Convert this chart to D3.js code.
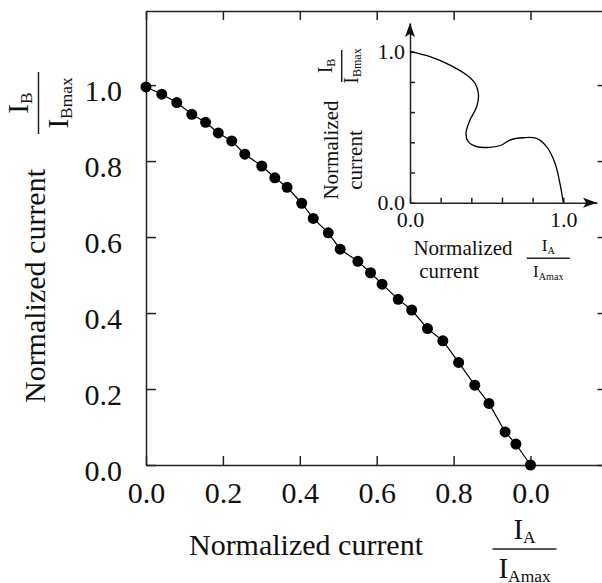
<!DOCTYPE html>
<html>
<head>
<meta charset="utf-8">
<script src="https://cdn.jsdelivr.net/npm/d3@7"></script>
<style>
  body { margin: 0; background: #fff; }
  svg { display: block; }
  svg text { font-family: "Liberation Serif", "Times New Roman", serif; }
  .axis path, .axis line { stroke: #222; stroke-width: 1.5; }
  .axis text { fill: #111; }
</style>
</head>
<body>
<div id="chart"></div>
<script>
// main chart data
const mainX = [0, 0.041, 0.080, 0.119, 0.155, 0.188, 0.223, 0.257, 0.301, 0.335,
  0.367, 0.405, 0.435, 0.474, 0.505, 0.551, 0.584, 0.614, 0.656, 0.691,
  0.732, 0.772, 0.813, 0.855, 0.892, 0.934, 0.962, 1.0];
const mainY = [0.995, 0.976, 0.954, 0.923, 0.902, 0.874, 0.853, 0.818, 0.787, 0.756,
  0.731, 0.689, 0.649, 0.611, 0.568, 0.536, 0.506, 0.476, 0.436, 0.408,
  0.359, 0.327, 0.270, 0.210, 0.162, 0.087, 0.055, 0.0];

const xTicks = [0, 0.2, 0.4, 0.6, 0.8, 1.0];
const xTickLabels = ["0.0", "0.2", "0.4", "0.6", "0.8", "0.0"];
const yTicks = [0, 0.2, 0.4, 0.6, 0.8, 1.0];
const yTickLabels = ["0.0", "0.2", "0.4", "0.6", "0.8", "1.0"];

// inset curve
const insetX = [0, 0.130, 0.261, 0.370, 0.424, 0.446, 0.435, 0.391, 0.365, 0.380,
  0.435, 0.522, 0.598, 0.652, 0.739, 0.826, 0.891, 0.946, 0.978, 1.0];
const insetY = [1.0, 0.967, 0.911, 0.845, 0.790, 0.724, 0.635, 0.547, 0.459, 0.404,
  0.371, 0.367, 0.382, 0.415, 0.430, 0.426, 0.371, 0.261, 0.128, 0.0];
const insetTicks = [0, 0.2, 0.4, 0.6, 0.8, 1.0];
const insetTickLabels = ["0.0", "", "", "", "", "1.0"];

const width = 602, height = 583;
const serif = '"Liberation Serif", "Times New Roman", serif';

const svg = d3.select("#chart").append("svg")
  .attr("width", width).attr("height", height);

//scale
const x = d3.scaleLinear().domain([0, 1.19]).range([146, 146 + 1.19 * 384.5]);
const y = d3.scaleLinear().domain([0, 1.195]).range([465, 11]);

//axes
svg.append("g").attr("class", "axis")
  .attr("transform", `translate(0,${y(0)})`)
  .call(d3.axisBottom(x).tickValues(xTicks).tickSize(-9).tickSizeOuter(0)
    .tickPadding(17).tickFormat((d, i) => xTickLabels[i]))
  .call(g => g.selectAll("text").attr("font-size", 30));

svg.append("g").attr("class", "axis")
  .attr("transform", `translate(0,${y.range()[1]})`)
  .call(d3.axisTop(x).tickValues(xTicks).tickSize(-9).tickSizeOuter(0).tickFormat(""));

svg.append("g").attr("class", "axis")
  .attr("transform", `translate(${x(0)},0)`)
  .call(d3.axisLeft(y).tickValues(yTicks).tickSize(-10).tickSizeOuter(0)
    .tickPadding(24).tickFormat((d, i) => yTickLabels[i]))
  .call(g => g.selectAll("text").attr("font-size", 30).attr("dy", "0.5em"));

svg.append("g").attr("class", "axis")
  .attr("transform", `translate(${x.range()[1]},0)`)
  .call(d3.axisRight(y).tickValues(yTicks).tickSize(-6).tickSizeOuter(0).tickFormat(""));

//mark
const pts = mainX.map((d, i) => [d, mainY[i]]);
svg.append("path")
  .datum(pts)
  .attr("fill", "none").attr("stroke", "#000").attr("stroke-width", 1.2)
  .attr("d", d3.line().x(d => x(d[0])).y(d => y(d[1])));

svg.append("g").selectAll("circle")
  .data(pts)
  .join("circle")
  .attr("cx", d => x(d[0])).attr("cy", d => y(d[1]))
  .attr("r", 5.5).attr("fill", "#000");

//labels
function fraction(g, num, numSub, den, denSub, size, lineLen, numBase, denBase) {
  const sub = size * 0.6;
  const t1 = g.append("text").attr("text-anchor", "middle").attr("y", numBase)
    .attr("font-size", size).attr("fill", "#111");
  t1.append("tspan").text(num);
  t1.append("tspan").attr("font-size", sub).attr("dy", size * 0.15).text(numSub);
  g.append("line").attr("x1", -lineLen / 2).attr("x2", lineLen / 2)
    .attr("stroke", "#222").attr("stroke-width", 1.5);
  const t2 = g.append("text").attr("text-anchor", "middle").attr("y", denBase)
    .attr("font-size", size).attr("fill", "#111");
  t2.append("tspan").text(den);
  t2.append("tspan").attr("font-size", sub).attr("dy", size * 0.15).text(denSub);
}

svg.append("text")
  .attr("transform", "translate(45,286) rotate(-90)")
  .attr("text-anchor", "middle").attr("font-size", 30).attr("fill", "#111")
  .text("Normalized current");

fraction(svg.append("g").attr("transform", "translate(38.5,103) rotate(-90)"),
  "I", "B", "I", "Bmax", 29, 62, -11, 29);

svg.append("text")
  .attr("x", 306).attr("y", 555)
  .attr("text-anchor", "middle").attr("font-size", 30).attr("fill", "#111")
  .text("Normalized current");

fraction(svg.append("g").attr("transform", "translate(524.5,549)"),
  "I", "A", "I", "Amax", 29, 64, -10, 29);

//inset
const xi = d3.scaleLinear().domain([0, 1.22]).range([410, 410 + 1.22 * 153.3]);
const yi = d3.scaleLinear().domain([0, 1.19]).range([202.7, 202.7 - 1.19 * 151]);

const inset = svg.append("g");

inset.append("g").attr("class", "axis")
  .attr("transform", `translate(0,${yi(0)})`)
  .call(d3.axisBottom(xi).tickValues(insetTicks).tickSize(-5).tickSizeOuter(0)
    .tickPadding(9).tickFormat((d, i) => insetTickLabels[i]))
  .call(g => g.selectAll("text").attr("font-size", 22));

inset.append("g").attr("class", "axis")
  .attr("transform", `translate(${xi(0)},0)`)
  .call(d3.axisLeft(yi).tickValues(insetTicks).tickSize(-5).tickSizeOuter(0)
    .tickPadding(5).tickFormat((d, i) => insetTickLabels[i]))
  .call(g => g.selectAll("text").attr("font-size", 22));

svg.selectAll(".axis").attr("font-family", serif);

// arrow heads at the ends of the inset axes
const xEnd = xi.range()[1], yEnd = yi.range()[1];
inset.append("path")
  .attr("d", `M${xEnd},${yi(0)} l-14,-5 l3,5 l-3,5 Z`).attr("fill", "#111");
inset.append("path")
  .attr("d", `M${xi(0)},${yEnd} l-5,14 l5,-3 l5,3 Z`).attr("fill", "#111");

inset.append("path")
  .datum(insetX.map((d, i) => [d, insetY[i]]))
  .attr("fill", "none").attr("stroke", "#000").attr("stroke-width", 1.3)
  .attr("d", d3.line().x(d => xi(d[0])).y(d => yi(d[1])).curve(d3.curveCatmullRom));

inset.append("text")
  .attr("transform", "translate(338,150) rotate(-90)")
  .attr("text-anchor", "middle").attr("font-size", 21).attr("fill", "#111")
  .text("Normalized");
inset.append("text")
  .attr("transform", "translate(362,160) rotate(-90)")
  .attr("text-anchor", "middle").attr("font-size", 21).attr("fill", "#111")
  .text("current");

fraction(inset.append("g").attr("transform", "translate(341.7,66) rotate(-90)"),
  "I", "B", "I", "Bmax", 20, 32, -10, 16);

inset.append("text")
  .attr("x", 463).attr("y", 255)
  .attr("text-anchor", "middle").attr("font-size", 21).attr("fill", "#111")
  .text("Normalized");
inset.append("text")
  .attr("x", 449).attr("y", 278)
  .attr("text-anchor", "middle").attr("font-size", 21).attr("fill", "#111")
  .text("current");

fraction(inset.append("g").attr("transform", "translate(548.3,258.3)"),
  "I", "A", "I", "Amax", 17, 43, -7, 19);
</script>
</body>
</html>
